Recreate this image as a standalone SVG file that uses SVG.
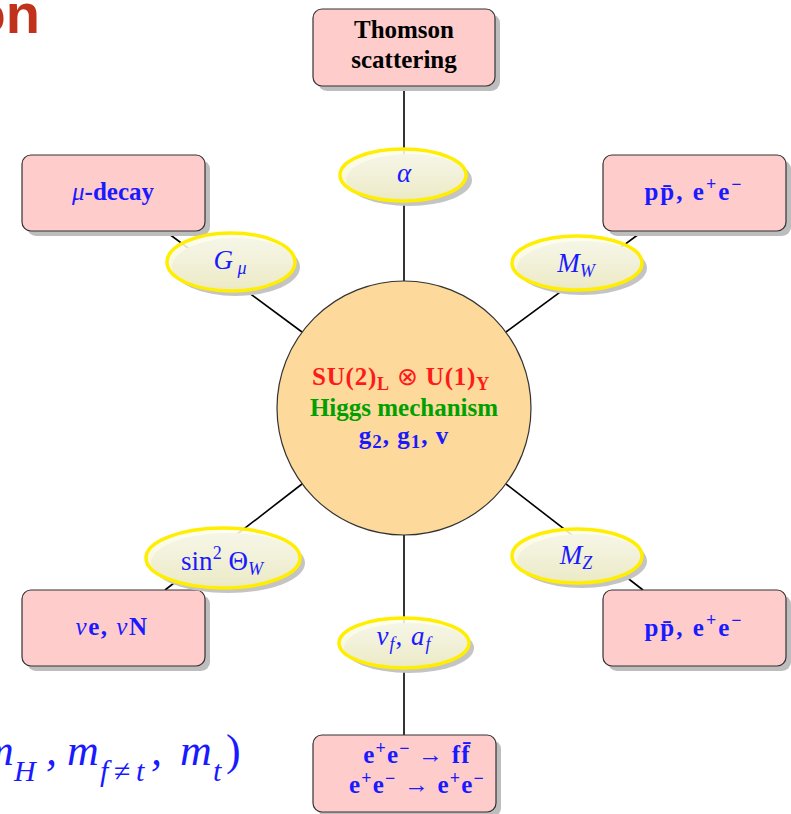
<svg xmlns="http://www.w3.org/2000/svg" width="791" height="814" viewBox="0 0 791 814">
<defs>
<linearGradient id="eg" x1="0" y1="0" x2="0" y2="1">
<stop offset="0" stop-color="#fefef0"/>
<stop offset="0.5" stop-color="#f8f7dc"/>
<stop offset="1" stop-color="#f1efc4"/>
</linearGradient>
<style>
.box{fill:#ffcccc;stroke:#333;stroke-width:1.2}
.bsh{fill:#bdbdbd}
.esh{fill:#c4c4c4}
.ell{fill:url(#eg);fill-opacity:0.88;stroke:#ffee00;stroke-width:3.5}
.con{stroke:#000;stroke-width:1.6;fill:none}
.t{font-family:"Liberation Serif",serif;font-size:25px;text-anchor:middle}
.b{font-weight:bold}
.blue{fill:#1a1aff}
.i{font-style:italic}
.sub{font-size:17px}
.m{font-size:27px}
.ms{font-size:18px}
</style>
</defs>
<text x="40" y="33" font-family="Liberation Sans,sans-serif" font-weight="bold" font-size="56" fill="#c0321c" text-anchor="end">on</text>
<text font-family="Liberation Serif,serif" font-style="italic" font-size="44" fill="#1a1aff"><tspan x="-18" y="765">m</tspan><tspan x="14" y="781" font-size="30">H</tspan><tspan x="46" y="765">,</tspan><tspan x="67" y="765">m</tspan><tspan x="100" y="781" font-size="30">f</tspan><tspan x="114" y="781" font-size="30" font-style="normal">≠</tspan><tspan x="136" y="781" font-size="30">t</tspan><tspan x="151" y="765">,</tspan><tspan x="180" y="765">m</tspan><tspan x="213" y="781" font-size="30">t</tspan><tspan x="226" y="765" font-style="normal">)</tspan></text>
<g id="connectors">
<line class="con" x1="404" y1="86" x2="404" y2="281"/>
<line class="con" x1="404" y1="535" x2="404" y2="735"/>
<line class="con" x1="165" y1="231" x2="302" y2="332"/>
<line class="con" x1="643" y1="231" x2="506" y2="332"/>
<line class="con" x1="165" y1="590" x2="302" y2="484"/>
<line class="con" x1="643" y1="590" x2="506" y2="484"/>
</g>
<g id="center">
<circle cx="404" cy="408" r="127" fill="#fdd99b" stroke="#333" stroke-width="1.2"/>
<text class="t b" x="401" y="385" fill="#ff1a1a" font-size="26" letter-spacing="0.8">SU(2)<tspan font-size="18" dy="5">L</tspan><tspan dy="-5" font-weight="normal"> ⊗ </tspan>U(1)<tspan font-size="18" dy="5">Y</tspan></text>
<text class="t b" x="404" y="416" fill="#00a000" font-size="27">Higgs mechanism</text>
<text class="t b blue" x="404" y="444" font-size="27" letter-spacing="1">g<tspan font-size="19" dy="4">2</tspan><tspan dy="-4">, g</tspan><tspan font-size="19" dy="4">1</tspan><tspan dy="-4">, v</tspan></text>
</g>
<g id="thomson">
<rect class="bsh" x="318" y="14" width="182" height="77" rx="9"/>
<rect class="box" x="313" y="9" width="182" height="77" rx="9"/>
<text class="t b" x="404" y="38" fill="#000" font-size="25.5">Thomson</text>
<text class="t b" x="404" y="68" fill="#000" font-size="25.5">scattering</text>
</g>
<g id="mudecay">
<rect class="bsh" x="27" y="160" width="183" height="76" rx="9"/>
<rect class="box" x="22" y="155" width="183" height="76" rx="9"/>
<text class="t b blue" x="113" y="200" font-size="26"><tspan class="i" font-weight="normal">μ</tspan>-decay</text>
</g>
<g id="ppbar-top">
<rect class="bsh" x="608" y="160" width="183" height="76" rx="9"/>
<rect class="box" x="603" y="155" width="183" height="76" rx="9"/>
<text class="t b blue" x="694" y="200" font-size="27" letter-spacing="2">pp̄, e<tspan class="ms" dy="-10">+</tspan><tspan dy="10">e</tspan><tspan class="ms" dy="-10">−</tspan></text>
</g>
<g id="nue">
<rect class="bsh" x="27" y="595" width="183" height="76" rx="9"/>
<rect class="box" x="22" y="590" width="183" height="76" rx="9"/>
<text class="t b blue" x="112" y="635" font-size="27" letter-spacing="1.5"><tspan class="i" font-weight="normal">ν</tspan>e, <tspan class="i" font-weight="normal">ν</tspan>N</text>
</g>
<g id="ppbar-bottom">
<rect class="bsh" x="608" y="595" width="183" height="76" rx="9"/>
<rect class="box" x="603" y="590" width="183" height="76" rx="9"/>
<text class="t b blue" x="694" y="636" font-size="27" letter-spacing="2">pp̄, e<tspan class="ms" dy="-10">+</tspan><tspan dy="10">e</tspan><tspan class="ms" dy="-10">−</tspan></text>
</g>
<g id="ee">
<rect class="bsh" x="318" y="740" width="183" height="77" rx="9"/>
<rect class="box" x="313" y="735" width="183" height="77" rx="9"/>
<text class="t b blue" x="417" y="763" font-size="26" letter-spacing="1.2">e<tspan font-size="18" dy="-9">+</tspan><tspan dy="9">e</tspan><tspan font-size="18" dy="-9">−</tspan><tspan dy="9" font-weight="normal"> → </tspan>ff̄</text>
<text class="t b blue" x="417" y="793" font-size="26" letter-spacing="1.2">e<tspan font-size="18" dy="-9">+</tspan><tspan dy="9">e</tspan><tspan font-size="18" dy="-9">−</tspan><tspan dy="9" font-weight="normal"> → </tspan>e<tspan font-size="18" dy="-9">+</tspan><tspan dy="9">e</tspan><tspan font-size="18" dy="-9">−</tspan></text>
</g>
<g id="alpha">
<ellipse class="esh" cx="409" cy="180" rx="63" ry="26"/>
<ellipse class="ell" cx="403" cy="175" rx="63" ry="26"/>
<text class="t i blue m" x="404" y="182">α</text>
</g>
<g id="gmu">
<ellipse class="esh" cx="236" cy="267" rx="64" ry="29"/>
<ellipse class="ell" cx="231" cy="262" rx="64" ry="29"/>
<text class="t i blue m" x="230" y="269">G<tspan class="ms" dy="5"> μ</tspan></text>
</g>
<g id="mw">
<ellipse class="esh" cx="582" cy="268" rx="65" ry="27"/>
<ellipse class="ell" cx="577" cy="263" rx="65" ry="27"/>
<text class="t i blue m" x="576" y="272">M<tspan class="ms" dy="5">W</tspan></text>
</g>
<g id="sinw">
<ellipse class="esh" cx="228" cy="563" rx="77" ry="30"/>
<ellipse class="ell" cx="223" cy="558" rx="77" ry="30"/>
<text class="t blue m" x="222" y="570">sin<tspan class="ms" dy="-11">2</tspan><tspan dy="11"> Θ</tspan><tspan class="ms i" dy="5">W</tspan></text>
</g>
<g id="mz">
<ellipse class="esh" cx="582" cy="561" rx="65" ry="27"/>
<ellipse class="ell" cx="577" cy="556" rx="65" ry="27"/>
<text class="t i blue m" x="576" y="564">M<tspan class="ms" dy="5">Z</tspan></text>
</g>
<g id="vfaf">
<ellipse class="esh" cx="409" cy="648" rx="65" ry="25"/>
<ellipse class="ell" cx="404" cy="643" rx="65" ry="25"/>
<text class="t i blue m" x="404" y="645" letter-spacing="1">v<tspan class="ms" dy="5">f</tspan><tspan dy="-5" font-style="normal">, </tspan>a<tspan class="ms" dy="5">f</tspan></text>
</g>
</svg>
